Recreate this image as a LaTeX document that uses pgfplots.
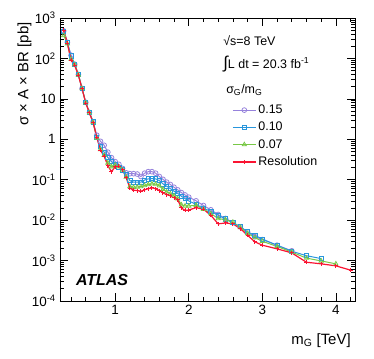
\documentclass[border=0pt]{standalone}
\usepackage{fontspec}
\setmainfont{Liberation Sans}
\usepackage{pgfplots}
\pgfplotsset{compat=1.18}
\definecolor{cPur}{RGB}{150,130,220}
\definecolor{cBlu}{RGB}{40,150,220}
\definecolor{cGrn}{RGB}{120,200,70}
\definecolor{cRed}{RGB}{250,20,50}

\begin{document}
\fontsize{12.5}{15}\selectfont
\begin{tikzpicture}
\path[use as bounding box] (-60bp,-58bp) rectangle (314bp,301bp);
\begin{axis}[
  at={(0,0)}, anchor=south west,
  scale only axis, width=295bp, height=283bp,
  ymode=log,
  xmin=0.25, xmax=4.26, ymin=1e-4, ymax=1e3,
  xtick={1,2,3,4},
  minor xtick={0.4,0.6,0.8,1.2,1.4,1.6,1.8,2.2,2.4,2.6,2.8,3.2,3.4,3.6,3.8,4.2},
  ytick={1e-4,1e-3,1e-2,1e-1,1,10,100,1000},
  yticklabels={10\textsuperscript{-4},10\textsuperscript{-3},10\textsuperscript{-2},10\textsuperscript{-1},1,10,10\textsuperscript{2},10\textsuperscript{3}},
  minor ytick={2e-4,3e-4,4e-4,5e-4,6e-4,7e-4,8e-4,9e-4,
    2e-3,3e-3,4e-3,5e-3,6e-3,7e-3,8e-3,9e-3,
    0.02,0.03,0.04,0.05,0.06,0.07,0.08,0.09,
    0.2,0.3,0.4,0.5,0.6,0.7,0.8,0.9,
    2,3,4,5,6,7,8,9,20,30,40,50,60,70,80,90,
    200,300,400,500,600,700,800,900},
  major tick length=8bp, minor tick length=4bp,
  tick style={black, line width=0.7bp},
  axis line style={line width=0.8bp},
  ticklabel style={font=\fontsize{13.5}{16}\selectfont},
  /pgf/number format/assume math mode=true,
  xlabel={m\textsubscript{G} [TeV]},
  ylabel={σ × A × BR [pb]},
  label style={font=\fontsize{15}{18}\selectfont},
  xlabel style={at={(rel axis cs:1,-0.14)}, anchor=east},
  ylabel style={at={(rel axis cs:-0.12,1)}, anchor=east},
  legend style={at={(rel axis cs:0.573,0.708)}, anchor=north west, draw=none, fill=none,
    font=\fontsize{12.5}{15}\selectfont, row sep=2.7bp},
  legend cell align=left,
  legend image code/.code={\draw[mark repeat=2,mark phase=2,#1] plot coordinates {(0bp,0bp) (11.5bp,0bp) (23bp,0bp)};},
]
\addplot[cPur, line width=1bp, mark=o, mark size=2.4bp, mark options={line width=0.8bp}] coordinates {
(0.30,480) (0.35,250) (0.40,120) (0.45,72) (0.50,40) (0.55,18) (0.60,8.2) (0.65,4.6) (0.70,2.7)
(0.75,1.26) (0.80,0.89) (0.85,0.71) (0.90,0.48) (0.95,0.35) (1.00,0.28) (1.05,0.24) (1.10,0.19)
(1.15,0.148) (1.20,0.141) (1.25,0.141) (1.30,0.138) (1.35,0.12) (1.40,0.145) (1.45,0.158) (1.50,0.158)
(1.55,0.145) (1.60,0.12) (1.65,0.102) (1.70,0.087) (1.75,0.076) (1.80,0.065) (1.85,0.056) (1.90,0.048)
(1.95,0.042) (2.00,0.037) (2.10,0.030) (2.20,0.023) (2.30,0.018) (2.40,0.0138) (2.50,0.011)
(2.60,0.0087) (2.70,0.0068) (2.80,0.0051) (2.90,0.0039) (3.00,0.0033) (3.20,0.0024) (3.40,0.00174)
};
\addlegendentry{0.15}
\addplot[cBlu, line width=1bp, mark=square, mark size=2.1bp, mark options={line width=0.8bp}] coordinates {
(0.30,470) (0.35,250) (0.40,115) (0.45,72) (0.50,40) (0.55,18) (0.60,8.0) (0.65,4.6) (0.70,2.7)
(0.75,1.12) (0.80,0.66) (0.85,0.48) (0.90,0.355) (0.95,0.28) (1.00,0.234) (1.05,0.204) (1.10,0.174)
(1.15,0.132) (1.20,0.095) (1.25,0.087) (1.30,0.087) (1.35,0.087) (1.40,0.098) (1.45,0.105) (1.50,0.107)
(1.55,0.105) (1.60,0.095) (1.65,0.079) (1.70,0.069) (1.75,0.060) (1.80,0.052) (1.85,0.046) (1.90,0.039)
(1.95,0.034) (2.00,0.030) (2.10,0.0245) (2.20,0.0195) (2.30,0.0166) (2.40,0.0132) (2.50,0.0107)
(2.60,0.0087) (2.70,0.0069) (2.80,0.0051) (2.90,0.0042) (3.00,0.0034) (3.20,0.0024) (3.40,0.0017)
(3.60,0.00132) (3.80,0.00112)
};
\addlegendentry{0.10}
\addplot[cGrn, line width=1bp, mark=triangle, mark size=2.4bp, mark options={line width=0.8bp}] coordinates {
(0.30,370) (0.35,230) (0.40,95) (0.45,70) (0.50,39) (0.55,18) (0.60,8.0) (0.65,4.5) (0.70,2.6)
(0.75,1.07) (0.80,0.56) (0.85,0.40) (0.90,0.26) (0.95,0.21) (1.00,0.23) (1.05,0.21) (1.10,0.174)
(1.15,0.117) (1.20,0.068) (1.25,0.065) (1.30,0.066) (1.35,0.068) (1.40,0.072) (1.45,0.076) (1.50,0.079)
(1.55,0.078) (1.60,0.071) (1.65,0.058) (1.70,0.050) (1.75,0.045) (1.80,0.040) (1.85,0.034) (1.90,0.024)
(1.95,0.0224) (2.00,0.0224) (2.10,0.0234) (2.20,0.0186) (2.30,0.0145) (2.40,0.011) (2.50,0.0102)
(2.60,0.0089) (2.70,0.0066) (2.80,0.0047) (2.90,0.0037) (3.00,0.0030) (3.20,0.00224) (3.40,0.00162)
(3.60,0.00115) (3.80,0.00098) (4.00,0.00083)
};
\addlegendentry{0.07}
\addplot[cRed, line width=1.2bp, mark=+, mark size=2bp, mark options={line width=1bp}] coordinates {
(0.30,500) (0.35,240) (0.40,89) (0.45,68) (0.50,38) (0.55,17.8) (0.60,7.9) (0.65,4.5) (0.70,2.6)
(0.75,1.12) (0.80,0.54) (0.85,0.38) (0.90,0.224) (0.95,0.158) (1.00,0.209) (1.05,0.214) (1.10,0.178)
(1.15,0.112) (1.20,0.062) (1.25,0.055) (1.30,0.054) (1.35,0.052) (1.40,0.056) (1.45,0.060) (1.50,0.063)
(1.55,0.060) (1.60,0.054) (1.65,0.047) (1.70,0.043) (1.75,0.040) (1.80,0.036) (1.85,0.032) (1.90,0.020)
(1.95,0.0174) (2.00,0.0178) (2.10,0.0204) (2.20,0.0186) (2.30,0.0132) (2.40,0.0081) (2.50,0.0085)
(2.60,0.0081) (2.70,0.0062) (2.80,0.0042) (2.90,0.0029) (3.00,0.0024) (3.20,0.00195) (3.40,0.00155)
(3.60,0.00091) (3.80,0.00083) (4.00,0.00074) (4.20,0.00058)
};
\addlegendentry{Resolution}
\node[anchor=west, inner sep=0pt] at (rel axis cs:0.553,0.919) {√s=8 TeV};
\node[anchor=west, inner sep=0pt] at (rel axis cs:0.553,0.838) {{\fontsize{17}{17}\selectfont ∫}L dt = 20.3 fb\textsuperscript{-1}};
\node[anchor=west, inner sep=0pt] at (rel axis cs:0.563,0.746) {σ\textsubscript{G}/m\textsubscript{G}};
\node[anchor=west, inner sep=0pt, font=\fontsize{16}{18}\selectfont\bfseries\itshape] at (rel axis cs:0.054,0.074) {ATLAS};
\end{axis}
\end{tikzpicture}
\end{document}
